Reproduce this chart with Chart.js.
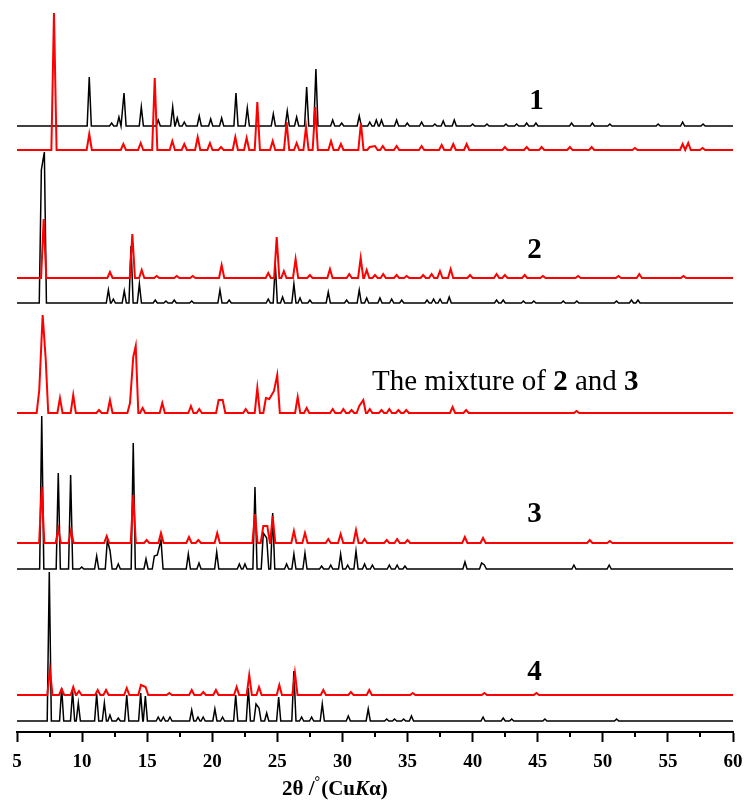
<!DOCTYPE html>
<html>
<head>
<meta charset="utf-8">
<title>PXRD patterns 1-4</title>
<script src="https://cdn.jsdelivr.net/npm/chart.js@4.4.1/dist/chart.umd.min.js"></script>
<style>
  html, body { margin: 0; padding: 0; background: #fff; }
</style>
</head>
<body>
<canvas id="chart" width="747" height="803"></canvas>
<script>
//
//    Powder XRD patterns: simulated (black) vs. as-synthesised (red)
//
const twoThetaMin = 5;
const twoThetaMax = 60;
const tickValues = [5, 10, 15, 20, 25, 30, 35, 40, 45, 50, 55, 60];
const tickLabels = ['5', '10', '15', '20', '25', '30', '35', '40', '45', '50', '55', '60'];
const minorTickValues = [7.5, 12.5, 17.5, 22.5, 27.5, 32.5, 37.5, 42.5, 47.5, 52.5, 57.5];

// peak lists, [2theta, intensity (a.u.)]
const calc1 = [[10.55,49],[12.27,3],[12.83,9],[13.22,33],[14.55,19],[15.85,6],[16.96,19],[17.31,8],[17.85,4],[19.0,10],[19.88,7],[20.72,8],[21.82,33],[22.69,18],[24.69,12],[25.76,15],[26.48,9],[27.25,39],[27.96,57],[29.25,6],[29.94,3],[31.29,10],[32.1,4],[32.6,6],[33.0,6],[34.16,6],[34.98,3],[36.08,4],[37.1,2],[37.74,5],[38.59,6],[40.0,2],[41.1,2],[42.56,2],[43.38,2],[44.15,3],[44.86,3],[47.6,3],[49.2,3],[50.54,2],[54.25,2],[56.13,4],[57.7,2]];
const exp1 = [[7.84,137],[10.55,16],[13.17,6],[14.5,7],[15.58,72],[16.93,9],[17.85,6],[18.88,13],[19.82,7],[20.67,3],[21.77,13],[22.64,12],[23.46,48],[24.64,9],[25.71,28],[26.48,7],[27.2,23],[27.91,43],[29.12,9],[29.88,6],[31.42,27],[32.1,3],[32.5,4],[33.1,4],[34.16,4],[36.08,4],[37.62,5],[38.51,6],[39.54,6],[42.48,3],[44.15,3],[45.3,3],[47.47,3],[49.14,3],[52.47,2],[56.13,6],[56.56,7],[57.66,2]];

const exp2 = [[7.05,59],[12.14,6],[13.86,44],[14.58,8],[15.73,2],[17.27,2],[18.5,2],[20.72,13],[24.3,5],[24.95,41],[25.5,7],[26.4,19],[27.5,3],[29.04,9],[30.52,4],[31.4,20],[31.86,8],[32.5,3],[33.13,4],[34.16,3],[34.93,2],[36.2,3],[36.85,4],[37.49,7],[38.31,9],[39.8,3],[41.84,4],[42.48,3],[44.0,3],[45.4,2],[48.1,2],[51.2,2],[52.8,4],[56.2,2]];
const calc2 = [[6.87,133],[7.1,151],[12.02,13],[12.4,4],[13.24,12],[13.76,57],[14.4,19],[15.62,3],[16.44,2],[17.08,3],[18.42,2],[20.59,13],[21.3,3],[24.3,4],[24.84,39],[25.4,6],[26.27,19],[26.74,5],[27.5,3],[28.91,11],[30.32,3],[31.29,13],[31.86,5],[32.88,5],[33.78,4],[34.55,3],[36.5,3],[37.0,4],[37.5,4],[38.2,6],[41.84,3],[42.35,3],[43.9,2],[44.7,2],[46.96,2],[48.0,2],[51.05,2],[52.2,3],[52.7,3]];

const expMix = [[6.71,23],[6.97,98],[7.2,55],[8.3,15],[9.32,18],[11.3,3],[12.14,13],[13.68,10],[13.93,56],[14.12,67],[14.65,5],[16.16,10],[18.36,7],[19.0,4],[20.49,13],[20.8,13],[22.57,4],[23.46,25],[24.12,15],[24.38,14],[24.74,22],[24.99,38],[26.56,16],[27.25,5],[29.25,4],[30.07,4],[30.7,3],[31.29,7],[31.6,13],[32.1,4],[33.0,3],[33.6,4],[34.3,3],[34.9,3],[38.46,6],[39.5,3],[47.98,2]];

const exp3 = [[6.9,56],[8.17,14],[9.15,13],[11.89,7],[13.93,48],[14.96,3],[16.06,10],[18.21,6],[18.93,3],[20.38,10],[23.28,29],[23.92,17],[24.23,17],[24.64,27],[26.27,12],[27.12,10],[28.91,4],[29.86,9],[31.04,13],[31.7,4],[33.4,3],[34.2,4],[35.0,3],[39.4,6],[40.8,5],[49.0,3],[50.54,2]];
const calc3 = [[6.9,153],[8.17,96],[9.12,94],[9.97,2],[11.12,13],[11.94,29],[12.15,18],[12.78,5],[13.93,126],[14.91,10],[15.55,13],[15.78,14],[16.06,29],[18.16,15],[18.98,6],[20.34,17],[22.08,5],[22.51,5],[23.28,82],[23.92,36],[24.18,31],[24.64,56],[25.71,5],[26.27,15],[27.12,16],[28.4,3],[29.1,4],[29.86,15],[30.4,4],[31.04,18],[31.7,5],[32.3,4],[33.6,4],[34.2,4],[34.8,3],[39.41,7],[40.69,6],[40.9,4],[47.78,4],[50.49,4]];

const exp4 = [[7.53,25],[8.43,6],[9.32,8],[9.76,4],[11.2,5],[11.84,5],[13.43,7],[14.52,10],[14.88,8],[16.7,2],[18.42,5],[19.31,3],[20.28,5],[21.87,8],[22.84,20],[23.59,8],[25.15,10],[26.35,22],[28.53,5],[30.65,3],[32.06,5],[35.4,2],[40.9,2],[44.9,2]];
const calc4 = [[7.48,149],[8.43,33],[9.27,30],[9.71,18],[11.12,27],[11.71,18],[12.14,6],[12.78,3],[13.43,26],[14.5,28],[14.86,25],[15.85,4],[16.24,4],[16.75,4],[18.42,11],[18.9,4],[19.3,4],[20.2,12],[20.79,4],[21.8,26],[22.77,33],[23.36,17],[23.59,13],[24.18,8],[25.1,24],[26.27,50],[26.86,4],[27.63,4],[28.45,17],[30.45,5],[31.98,12],[33.4,2],[34.0,2],[34.7,2],[35.3,5],[40.8,4],[42.35,3],[43.0,2],[45.55,2],[51.06,2]];

// stacking: each pattern sits on its own baseline
const traces = [
  { peaks: calc1,  offset: 606, color: '#000000', width: 1.5, half: 0.16 },
  { peaks: exp1,   offset: 582, color: '#ff0000', width: 2,   half: 0.2 },
  { peaks: exp2,   offset: 454, color: '#ff0000', width: 2,   half: 0.2 },
  { peaks: calc2,  offset: 429, color: '#000000', width: 1.5, half: 0.16 },
  { peaks: expMix, offset: 319, color: '#ff0000', width: 2,   half: 0.2 },
  { peaks: exp3,   offset: 189, color: '#ff0000', width: 2,   half: 0.2 },
  { peaks: calc3,  offset: 163, color: '#000000', width: 1.5, half: 0.16 },
  { peaks: exp4,   offset: 37,  color: '#ff0000', width: 2,   half: 0.2 },
  { peaks: calc4,  offset: 11,  color: '#000000', width: 1.5, half: 0.16 }
];

const SERIF = "'Liberation Serif', 'Times New Roman', serif";

// sample labels (parts: [text, bold])
const annotations = [
  { x: 44.9,  y: 623, align: 'center', parts: [['1', true]] },
  { x: 44.75, y: 474, align: 'center', parts: [['2', true]] },
  { x: 32.27, y: 342, align: 'left',   parts: [['The mixture of ', false], ['2', true], [' and ', false], ['3', true]] },
  { x: 44.75, y: 210, align: 'center', parts: [['3', true]] },
  { x: 44.75, y: 52,  align: 'center', parts: [['4', true]] }
];

function buildPattern(peaks, offset, half) {
  let pts = [{x: twoThetaMin, y: offset}];
  peaks.forEach(([pos, inten], k) => {
    let prev = peaks[k - 1];
    let next = peaks[k + 1];
    if (!prev || pos - prev[0] >= 2 * half) pts.push({x: pos - half, y: offset});
    pts.push({x: pos, y: offset + inten});
    if (!next || next[0] - pos >= 2 * half) pts.push({x: pos + half, y: offset});
  });
  pts.push({x: twoThetaMax, y: offset});
  return pts;
}

// minor ticks + text labels + axis title
const decorations = {
  id: 'decorations',
  afterDraw(chart) {
    const ctx = chart.ctx;
    const xs = chart.scales.x;
    const ys = chart.scales.y;
    const axisY = chart.chartArea.bottom;

    ctx.save();
    ctx.strokeStyle = '#000';
    ctx.lineWidth = 2;
    minorTickValues.forEach(v => {
      let px = Math.round(xs.getPixelForValue(v));
      ctx.beginPath();
      ctx.moveTo(px, axisY);
      ctx.lineTo(px, axisY + 5);
      ctx.stroke();
    });

    ctx.fillStyle = '#000';
    ctx.textBaseline = 'alphabetic';
    annotations.forEach(a => {
      let size = 29;
      let widths = a.parts.map(([t, b]) => {
        ctx.font = (b ? 'bold ' : '') + size + 'px ' + SERIF;
        return ctx.measureText(t).width;
      });
      let total = widths.reduce((s, w) => s + w, 0);
      let px = xs.getPixelForValue(a.x);
      if (a.align === 'center') px -= total / 2;
      let py = ys.getPixelForValue(a.y);
      a.parts.forEach(([t, b], k) => {
        ctx.font = (b ? 'bold ' : '') + size + 'px ' + SERIF;
        ctx.textAlign = 'left';
        ctx.fillText(t, px, py);
        px += widths[k];
      });
    });

    // 2θ /°(CuKα), K in italics
    let titleParts = [['2θ /', 'bold 21px '], ['°', 'bold 14px '], ['(Cu', 'bold 21px '], ['K', 'bold italic 21px '], ['α)', 'bold 21px ']];
    let tx = 282;
    let ty = 795;
    titleParts.forEach(([t, f]) => {
      ctx.font = f + SERIF;
      ctx.textAlign = 'left';
      ctx.fillText(t, tx, t === '°' ? ty - 9 : ty);
      tx += ctx.measureText(t).width + (t === '°' ? 1 : 0);
    });
    ctx.restore();
  }
};

var ctx = document.getElementById('chart').getContext('2d');
var pxrdChart = new Chart(ctx, {
  type: 'line',
  data: {
    datasets: traces.map((t, k) => ({
      label: 'pattern ' + k,
      data: buildPattern(t.peaks, t.offset, t.half),
      borderColor: t.color,
      borderWidth: t.width,
      pointRadius: 0,
      tension: 0,
      fill: false,
      order: t.color === '#ff0000' ? 0 : 1
    }))
  },
  options: {
    responsive: false,
    animation: false,
    events: [],
    layout: { padding: { left: 17, right: 14, top: 5, bottom: 0 } },
    plugins: { legend: { display: false }, tooltip: { enabled: false } },
    scales: {
      x: {
        type: 'linear',
        min: twoThetaMin,
        max: twoThetaMax,
        afterBuildTicks: scale => { scale.ticks = tickValues.map(v => ({ value: v })); },
        afterFit: scale => {
          scale.height = 71;
          scale.paddingLeft = 0;
          scale.paddingRight = 0;
        },
        ticks: {
          callback: (v) => tickLabels[tickValues.indexOf(v)],
          color: '#000',
          padding: 9,
          maxRotation: 0,
          autoSkip: false,
          font: { family: SERIF, size: 19, weight: 'bold' }
        },
        grid: { drawOnChartArea: false, drawTicks: true, tickLength: 10, tickWidth: 2, tickColor: '#000' },
        border: { display: true, color: '#000', width: 2 }
      },
      y: {
        display: false,
        min: 0,
        max: 727
      }
    }
  },
  plugins: [decorations]
});
</script>
</body>
</html>
